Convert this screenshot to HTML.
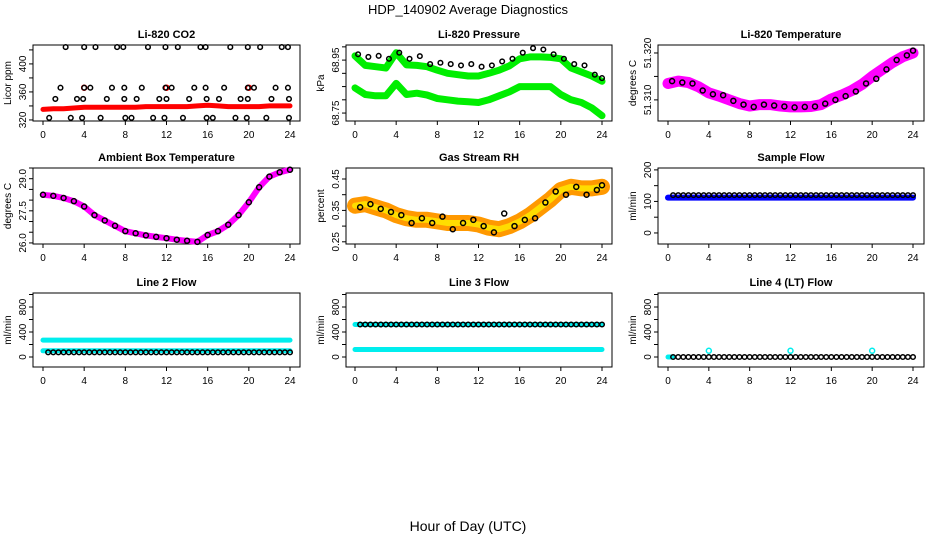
<!DOCTYPE html>
<html><head><meta charset="utf-8">
<style>
html,body{margin:0;padding:0;background:#fff;}
svg{display:block;font-family:"Liberation Sans",sans-serif;}
</style></head>
<body>
<svg id="chart" width="936" height="540" viewBox="0 0 936 540" xmlns="http://www.w3.org/2000/svg">
<text x="468" y="14" text-anchor="middle" font-size="13">HDP_140902  Average Diagnostics</text>
<text x="468" y="531" text-anchor="middle" font-size="14">Hour of Day (UTC)</text>
</svg>
<script>
// ---------- data ----------
const hours = [0,1,2,3,4,5,6,7,8,9,10,11,12,13,14,15,16,17,18,19,20,21,22,23,24];
const xTicks = [0,4,8,12,16,20,24];

const co2RedBand = [335,336,336,337,338,338,338,338,338,338,339,339,339,339,339,340,341,340,339,339,339,339,340,340,340];
const co2HiX = [2.2,4.0,5.1,7.2,7.8,10.2,11.9,13.1,15.3,15.8,18.2,19.9,21.1,23.2,23.8];
const co2MidX = [1.7,4.0,4.6,6.7,7.9,9.6,11.9,12.5,14.7,15.8,17.6,19.9,20.5,22.6,23.8];
const co2LowX = [1.2,3.3,3.9,6.2,7.9,9.1,11.3,12.0,14.2,15.9,17.1,19.2,19.9,22.2,23.9];
const co2MinX = [0.6,2.7,3.8,5.6,8.0,8.6,10.7,11.8,13.6,15.9,16.5,18.7,19.8,21.7,23.9];
const co2Levels = [424,366,350,323];
const co2RedPts = [4.0,12.0,20.0];

const presUpper = [68.966,68.930,68.925,68.920,68.978,68.932,68.930,68.925,68.912,68.900,68.895,68.890,68.890,68.900,68.912,68.928,68.955,68.962,68.962,68.960,68.955,68.920,68.905,68.890,68.870];
const presLower = [68.845,68.820,68.815,68.815,68.862,68.820,68.825,68.818,68.805,68.800,68.795,68.793,68.790,68.800,68.815,68.830,68.850,68.850,68.850,68.850,68.820,68.800,68.790,68.770,68.740];
const presBlack = [68.972,68.962,68.966,68.955,68.978,68.955,68.965,68.935,68.940,68.935,68.930,68.935,68.925,68.930,68.945,68.955,68.978,68.995,68.990,68.972,68.955,68.935,68.930,68.895,68.882];

const tempBand = [51.3135,51.3140,51.3137,51.3128,51.3115,51.3108,51.3100,51.3092,51.3087,51.3090,51.3090,51.3087,51.3085,51.3085,51.3086,51.3090,51.3102,51.3110,51.3120,51.3133,51.3150,51.3165,51.3180,51.3192,51.3200];
const tempBlack = [51.3140,51.3137,51.3135,51.3120,51.3112,51.3110,51.3098,51.3090,51.3085,51.3090,51.3088,51.3086,51.3084,51.3085,51.3086,51.3092,51.3100,51.3108,51.3118,51.3135,51.3145,51.3165,51.3185,51.3195,51.3205];

const ambTemp = [28.25,28.2,28.1,27.95,27.7,27.3,27.05,26.8,26.55,26.45,26.35,26.28,26.22,26.15,26.1,26.05,26.37,26.55,26.85,27.3,27.9,28.6,29.1,29.3,29.42];

const rhBand = [0.365,0.37,0.36,0.35,0.335,0.325,0.32,0.32,0.315,0.31,0.31,0.31,0.305,0.295,0.29,0.30,0.315,0.335,0.36,0.385,0.415,0.425,0.42,0.42,0.425];
const rhBlack = [0.36,0.37,0.355,0.345,0.335,0.31,0.325,0.31,0.33,0.29,0.31,0.32,0.30,0.28,0.34,0.30,0.32,0.325,0.375,0.41,0.40,0.425,0.40,0.415,0.43];

const sampleBlue = 112;
const sampleBlack = 120;
const line2Cyan = [270,100];
const line2Black = 75;
const line3Cyan = [520,120];
const line3Black = 520;
const line4Black = 0;
const line4CyanSpikes = [4,12,20];
const line4CyanSpikeValue = 100;

// ---------- layout ----------
const svg = document.getElementById('chart');
const NS = 'http://www.w3.org/2000/svg';
const colX0 = [43,355,668], colX24 = [290,602,913];
const colL = [33,346,658], colR = [300,612,924];
const rowT = [45,168,293], rowB = [121,244,367];

function mk(tag, attrs, parent){
  const e = document.createElementNS(NS, tag);
  for (const k in attrs) e.setAttribute(k, attrs[k]);
  (parent||svg).appendChild(e);
  return e;
}

function panel(c, r, title, ylab, ymin, ymax, ticks, labels, name){
  const g = mk('g', {});
  
  
  const xs = h => colX0[c] + (colX24[c]-colX0[c]) * h / 24;
  const ys = v => rowB[r] - (rowB[r]-rowT[r]) * (v - ymin) / (ymax - ymin);
  const box = mk('rect', {x:colL[c], y:rowT[r], width:colR[c]-colL[c], height:rowB[r]-rowT[r], fill:'none', stroke:'#000', 'stroke-width':1}, g);
  
  
  const t = mk('text', {x:(colL[c]+colR[c])/2, y:rowT[r]-7, 'text-anchor':'middle', 'font-size':11, 'font-weight':'bold'}, g);
  t.textContent = title;
  
  
  const yl = mk('text', {transform:`translate(${colL[c]-22},${(rowT[r]+rowB[r])/2}) rotate(-90)`, 'text-anchor':'middle', 'font-size':10}, g);
  yl.textContent = ylab;
  
  
  const xa = mk('g', {}, g);
  
  
  xTicks.forEach(h => {
    mk('line', {x1:xs(h), x2:xs(h), y1:rowB[r], y2:rowB[r]+4, stroke:'#000'}, xa);
    const tl = mk('text', {x:xs(h), y:rowB[r]+17, 'text-anchor':'middle', 'font-size':10}, xa);
    tl.textContent = h;
    
    
  });
  const ya = mk('g', {}, g);
  
  
  ticks.forEach(v => {
    mk('line', {x1:colL[c]-4, x2:colL[c], y1:ys(v), y2:ys(v), stroke:'#000'}, ya);
  });
  labels.forEach(v => {
    const tl = mk('text', {transform:`translate(${colL[c]-7},${ys(parseFloat(v))}) rotate(-90)`, 'text-anchor':'middle', 'font-size':10}, ya);
    tl.textContent = v;
    
    
  });
  return {g, xs, ys};
}

function band(p, xsArr, vals, color, w, name){
  const d = vals.map((v,i)=>(i?'L':'M')+p.xs(xsArr[i]).toFixed(1)+','+p.ys(v).toFixed(1)).join(' ');
  const e = mk('path', {d, fill:'none', stroke:color, 'stroke-width':w, 'stroke-linecap':'round', 'stroke-linejoin':'round'}, p.g);
  
  
  return e;
}
function dots(p, xsArr, vals, color, rad, sw, name){
  const g = mk('g', {}, p.g);
  
  
  xsArr.forEach((h,i)=>{
    mk('circle', {cx:p.xs(h), cy:p.ys(vals[i]), r:rad, fill:'none', stroke:color, 'stroke-width':sw}, g);
  });
}
function halfSteps(a,b){ const o=[]; for(let h=a; h<=b+1e-9; h+=0.5) o.push(h); return o; }
function fill(n,v){ return new Array(n).fill(v); }

let p = panel(0,0,'Li-820 CO2','Licor ppm',318.5,427,[320,340,360,380,400,420],['320','360','400'],'co2');
band(p, hours, co2RedBand, '#ff0000', 5, 'co2-red-band');
dots(p, co2RedPts, fill(3,366), '#ff0000', 2.5, 1.5, 'co2-red-points');
[co2HiX,co2MidX,co2LowX,co2MinX].forEach((xa,k)=>dots(p, xa, fill(xa.length, co2Levels[k]), '#000', 2.3, 1.5, 'co2-black-points'));

p = panel(1,0,'Li-820 Pressure','kPa',68.72,69.007,[68.75,68.80,68.85,68.90,68.95,69.00],['68.75','68.95'],'pressure');
band(p, hours, presUpper, '#00ee00', 7, 'pressure-green-upper');
band(p, hours, presLower, '#00ee00', 7, 'pressure-green-lower');
dots(p, hours.map(h=>Math.min(24,h+0.3)), presBlack, '#000', 2.3, 1.5, 'pressure-black-points');

p = panel(2,0,'Li-820 Temperature','degrees C',51.3055,51.3217,[51.310,51.315,51.320],['51.310','51.320'],'temperature');
band(p, hours, tempBand, '#ff00ff', 11, 'temperature-magenta-band');
dots(p, hours.map(h=>Math.min(24,h+0.4)), tempBlack, '#000', 2.5, 1.5, 'temperature-black-points');

p = panel(0,1,'Ambient Box Temperature','degrees C',25.95,29.5,[26.0,26.5,27.0,27.5,28.0,28.5,29.0,29.5],['26.0','27.5','29.0'],'ambient');
band(p, hours, ambTemp, '#ff00ff', 6, 'ambient-magenta-band');
dots(p, hours, ambTemp, '#000', 2.5, 1.5, 'ambient-black-points');

p = panel(1,1,'Gas Stream RH','percent',0.243,0.485,[0.25,0.30,0.35,0.40,0.45],['0.25','0.35','0.45'],'rh');
band(p, hours, rhBand, '#ff9900', 16, 'rh-orange-band');
band(p, hours, rhBand, '#ffdd00', 6, 'rh-yellow-core');
dots(p, hours.map(h=>Math.min(24,h+0.5)), rhBlack, '#000', 2.5, 1.5, 'rh-black-points');

p = panel(2,1,'Sample Flow','ml/min',-35,206,[0,50,100,150,200],['0','100','200'],'sample-flow');
band(p, [0,24], [sampleBlue,sampleBlue], '#0000ff', 6, 'sample-flow-blue-band');
let hs = halfSteps(0.5,24);
dots(p, hs, fill(hs.length, sampleBlack), '#000', 2.3, 1.5, 'sample-flow-black-points');

const fT=[0,200,400,600,800,1000], fL=['0','400','800'];
p = panel(0,2,'Line 2 Flow','ml/min',-160,1024,fT,fL,'line2-flow');
line2Cyan.forEach((v,i)=>band(p,[0,24],[v,v],'#00eeee',5,'line2-cyan-band-'+i));
dots(p, hs, fill(hs.length, line2Black), '#000', 2.3, 1.5, 'line2-black-points');

p = panel(1,2,'Line 3 Flow','ml/min',-160,1024,fT,fL,'line3-flow');
line3Cyan.forEach((v,i)=>band(p,[0,24],[v,v],'#00eeee',5,'line3-cyan-band-'+i));
dots(p, hs, fill(hs.length, line3Black), '#000', 2.3, 1.5, 'line3-black-points');

p = panel(2,2,'Line 4 (LT) Flow','ml/min',-160,1024,fT,fL,'line4-flow');
band(p,[0,0.4],[0,0],'#00eeee',5,'line4-cyan-start');
dots(p, line4CyanSpikes, fill(3, line4CyanSpikeValue), '#00eeee', 2.5, 1.5, 'line4-cyan-points');
dots(p, hs, fill(hs.length, line4Black), '#000', 2.3, 1.5, 'line4-black-points');
</script>
</body></html>
